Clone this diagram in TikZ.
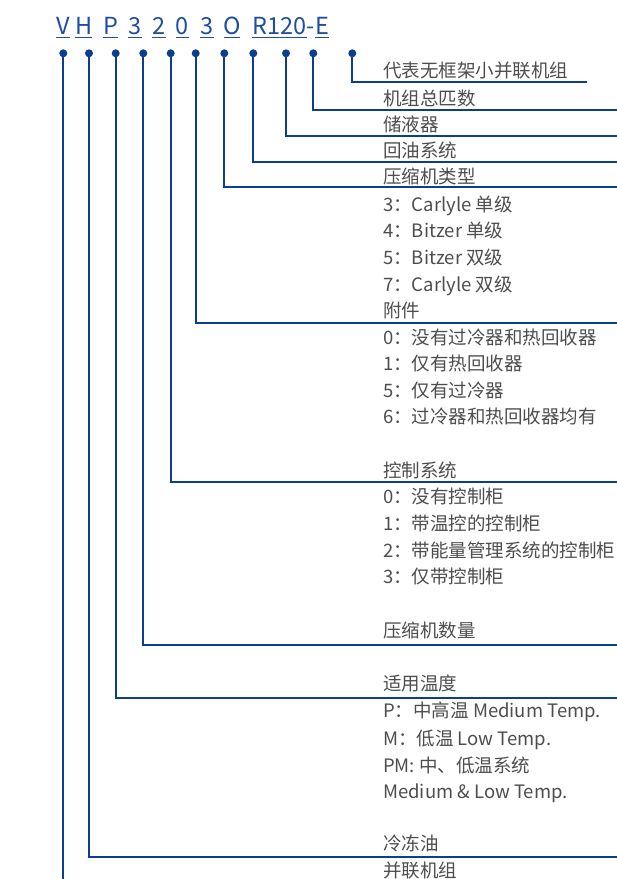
\documentclass[tikz,border=0pt]{standalone}
\usepackage{fontspec}
\setmainfont{Noto Sans CJK SC}
\definecolor{lineblue}{HTML}{0B3D91}
\definecolor{codeblue}{HTML}{1F4EA0}
\definecolor{txtgray}{HTML}{4D4D4D}
\begin{document}
\begin{tikzpicture}[x=1pt,y=-1pt,
  conn/.style={draw=lineblue,line width=2pt},
  dotnode/.style={circle,fill=lineblue,inner sep=0pt,minimum size=8pt},
  code/.style={anchor=base,inner sep=0pt,text=codeblue,font=\fontsize{23.5}{26}\selectfont},
  uline/.style={draw=codeblue,line width=1.3pt},
  lbl/.style={anchor=base west,inner sep=0pt,text=txtgray,font=\fontsize{18.5}{22}\selectfont}]
\useasboundingbox (0,0) rectangle (617,879);
% code letters
\node[code] (cV) at (62.8,34) {V};
\node[code] (cH) at (83.7,34) {H};
\node[code] (cP) at (110.5,34) {P};
\node[code] (c3a) at (135.3,34) {3};
\node[code] (c2) at (159,34) {2};
\node[code] (c0) at (182.5,34) {0};
\node[code] (c3b) at (207,34) {3};
\node[code] (cO) at (232,34) {O};
\node[code] (cR) at (279.8,34) {R120};
\node[code] (cdash) at (311,34) {-};
\node[code] (cE) at (322,34) {E};
\draw[uline] (56,37.5) -- (70,37.5);
\draw[uline] (75,37.5) -- (92.3,37.5);
\draw[uline] (102.7,37.5) -- (118.3,37.5);
\draw[uline] (128.3,37.5) -- (142.3,37.5);
\draw[uline] (152.3,37.5) -- (165.7,37.5);
\draw[uline] (176,37.5) -- (189,37.5);
\draw[uline] (200,37.5) -- (214,37.5);
\draw[uline] (224,37.5) -- (240,37.5);
\draw[uline] (252.3,37.5) -- (307.3,37.5);
\draw[uline] (315,37.5) -- (329,37.5);
% dots
\node[dotnode] (d1) at (63.3,53.3) {};
\node[dotnode] (d2) at (89,53.3) {};
\node[dotnode] (d3) at (115.7,53.3) {};
\node[dotnode] (d4) at (143.3,53.3) {};
\node[dotnode] (d5) at (170.7,53.3) {};
\node[dotnode] (d6) at (195.7,53.3) {};
\node[dotnode] (d7) at (224.3,53.3) {};
\node[dotnode] (d8) at (253.3,53.3) {};
\node[dotnode] (d9) at (286,53.3) {};
\node[dotnode] (d10) at (313.3,53.3) {};
\node[dotnode] (d11) at (352.3,53.3) {};
% line ends
\coordinate (e1) at (63.3,879);
\coordinate (e2) at (617,856.7);
\coordinate (e3) at (617,698.3);
\coordinate (e4) at (617,645);
\coordinate (e5) at (617,482.3);
\coordinate (e6) at (617,322.7);
\coordinate (e7) at (617,187.3);
\coordinate (e8) at (617,161.7);
\coordinate (e9) at (617,136);
\coordinate (e10) at (617,110);
\coordinate (e11) at (586.7,81.7);
\draw[conn] (d1.center) -- (e1);
\foreach \i in {2,...,11} { \draw[conn] (d\i.center) |- (e\i); }
% labels
\node[lbl] (t1) at (383,77) {代表无框架小并联机组};
\node[lbl] (t2) at (383,105.3) {机组总匹数};
\node[lbl] (t3) at (383,131) {储液器};
\node[lbl] (t4) at (383,157) {回油系统};
\node[lbl] (t5) at (383,183) {压缩机类型};
\node[lbl] (t6) at (383,211) {3：Carlyle 单级};
\node[lbl] (t7) at (383,237.7) {4：Bitzer 单级};
\node[lbl] (t8) at (383,264.3) {5：Bitzer 双级};
\node[lbl] (t9) at (383,291) {7：Carlyle 双级};
\node[lbl] (t10) at (383,317) {附件};
\node[lbl] (t11) at (383,344.3) {0：没有过冷器和热回收器};
\node[lbl] (t12) at (383,370.3) {1：仅有热回收器};
\node[lbl] (t13) at (383,397) {5：仅有过冷器};
\node[lbl] (t14) at (383,423) {6：过冷器和热回收器均有};
\node[lbl] (t15) at (383,477) {控制系统};
\node[lbl] (t16) at (383,503.7) {0：没有控制柜};
\node[lbl] (t17) at (383,530.3) {1：带温控的控制柜};
\node[lbl] (t18) at (383,557) {2：带能量管理系统的控制柜};
\node[lbl] (t19) at (383,583.7) {3：仅带控制柜};
\node[lbl] (t20) at (383,637) {压缩机数量};
\node[lbl] (t21) at (383,690.3) {适用温度};
\node[lbl] (t22) at (383,717) {P：中高温 Medium Temp.};
\node[lbl] (t23) at (383,745.3) {M：低温 Low Temp.};
\node[lbl] (t24) at (383,772) {PM: 中、低温系统};
\node[lbl] (t25) at (383,798.7) {Medium \& Low Temp.};
\node[lbl] (t26) at (383,850.3) {冷冻油};
\node[lbl] (t27) at (383,877) {并联机组};
\end{tikzpicture}
\end{document}
